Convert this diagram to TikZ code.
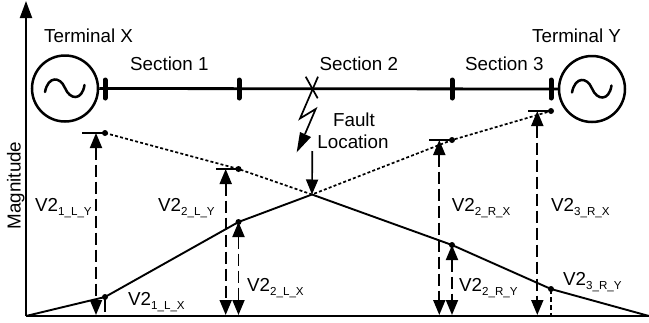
\documentclass[tikz,border=0pt]{standalone}
\usepackage{fontspec}
\setmainfont{Liberation Sans}
\usetikzlibrary{arrows.meta}
\tikzset{
  x=1pt,y=-1pt,
  lbl/.style={inner sep=0pt,font=\fontsize{18.8}{21}\selectfont},
  vlbl/.style={inner sep=0pt,anchor=base west,font=\fontsize{18.8}{21}\selectfont},
  head/.style={-{Triangle[length=15pt,width=12pt]}},
  heads/.style={{Triangle[length=15pt,width=12pt]}-{Triangle[length=15pt,width=12pt]}},
  bus/.style={line width=5pt,line cap=round},
  gen/.style={draw,circle,line width=2.5pt,minimum size=66pt,inner sep=0pt},
  meas/.style={line width=1.9pt,dash pattern=on 12pt off 5pt},
  curve/.style={line width=1.9pt},
  dots/.style={line width=1.7pt,dash pattern=on 3pt off 2.2pt},
  dotm/.style={circle,fill,inner sep=0pt,minimum size=6pt},
  tick/.style={line width=1.7pt},
  wave/.style={line width=2.5pt,line cap=round},
  bolt/.style={line width=1.7pt},
}
\newcommand{\vv}[2]{V2\raisebox{-4pt}{\fontsize{11.6}{13}\selectfont #1\_#2}}
\begin{document}
\begin{tikzpicture}
\useasboundingbox (0,0) rectangle (649,322);
% axes
\coordinate (o) at (26,316);
\coordinate (top) at (26,1);
\coordinate (xe) at (649,316);
\draw[line width=2pt,-{Triangle[length=17pt,width=12pt]}] (o) -- (top);
\draw[line width=2pt] (o) -- (xe);
\node[lbl,rotate=90,anchor=base] (mag) at (20.5,185.5) {Magnitude};
% sources
\node[gen] (gx) at (65,88.5) {};
\node[gen] (gy) at (592,89) {};
\draw[wave] (45,92) .. controls (48,76) and (60,76) .. (65,88) .. controls (70,100) and (82,101) .. (84.5,85);
\draw[wave] (572,92.5) .. controls (575,76.5) and (587,76.5) .. (592,88.5) .. controls (597,100.5) and (609,101.5) .. (611.5,85.5);
% line
\coordinate (b1) at (105,89);
\coordinate (b2) at (239,89);
\coordinate (b3) at (452,89);
\coordinate (b4) at (551,89);
\draw[line width=2.8pt] (gx.east) -- (gy.west);
\foreach \b in {b1,b2,b3,b4} \draw[bus] ([yshift=9pt]\b) -- ([yshift=-9pt]\b);
\node[lbl,anchor=base west] (tx) at (44,42) {Terminal X};
\node[lbl,anchor=base west] (ty) at (532,42) {Terminal Y};
\node[lbl,anchor=base west] (s1) at (130,70.7) {Section 1};
\node[lbl,anchor=base west] (s2) at (319.5,70.7) {Section 2};
\node[lbl,anchor=base west] (s3) at (465,70.7) {Section 3};
\node[lbl,anchor=base] (fl1) at (354,126.7) {Fault};
\node[lbl,anchor=base] (fl2) at (353,148) {Location};
% fault
\draw[bolt] (305.7,76.7) -- (317.7,98.3);
\draw[bolt] (318,76.7) -- (300,118.5) -- (315.7,109) -- (305,134);
\fill (296.7,152.3) -- (300,132) -- (311,137) -- cycle;
% points
\coordinate (p0) at (26,316);
\node[dotm] (a1) at (105,297) {};
\node[dotm] (a2) at (238.5,222) {};
\coordinate (c) at (312,194.5);
\node[dotm] (a3) at (452,245) {};
\node[dotm] (a4) at (551,289) {};
\coordinate (pe) at (649,316);
\node[dotm] (d1) at (105,133) {};
\node[dotm] (d2) at (238.5,169) {};
\node[dotm] (d3) at (452,140) {};
\node[dotm] (d4) at (551,111) {};
\draw[curve] (p0) -- (a1.center) -- (a2.center) -- (c) -- (a3.center) -- (a4.center) -- (pe);
\draw[dots] (d1.center) -- (d2.center) -- (c) -- (d3.center) -- (d4.center);
\draw[tick] (d1.center) -- ++(-23,0);
\draw[tick] (d2.center) -- ++(-23,0);
\draw[tick] (d3.center) -- ++(-23,0);
\draw[tick] (d4.center) -- ++(-23,0);
% measures
\coordinate (b96) at (96,315);
\coordinate (t96) at (96,133);
\coordinate (b226) at (225.7,315);
\coordinate (t226) at (225.7,169);
\coordinate (b439) at (439.3,315);
\coordinate (t439) at (439.3,140);
\coordinate (b537) at (537.3,315);
\coordinate (t537) at (537.3,111);
\coordinate (b238) at (238.5,315);
\coordinate (b452) at (452,315);
\coordinate (b105) at (105,312);
\coordinate (b551) at (551,315);
\draw[meas,heads] (t96) -- (b96);
\draw[meas,heads] (t226) -- (b226);
\draw[meas,heads] (t439) -- (b439);
\draw[meas,heads] (t537) -- (b537);
\draw[meas,heads] (a2.center) -- (b238);
\draw[meas,heads] (a3.center) -- (b452);
\draw[line width=1.9pt] (a1.center) -- (b105);
\draw[line width=1.9pt,dash pattern=on 5pt off 3pt] (a4.center) -- (b551);
\coordinate (fa) at (312.3,151);
\draw[line width=1.7pt,head] (fa) -- (c);
% labels
\node[vlbl] (l1) at (35,211.7) {\vv{1}{L\_Y}};
\node[vlbl] (l2) at (158,211.7) {\vv{2}{L\_Y}};
\node[vlbl] (l3) at (128,305.7) {\vv{1}{L\_X}};
\node[vlbl] (l4) at (247,291.7) {\vv{2}{L\_X}};
\node[vlbl] (l5) at (451.7,211.7) {\vv{2}{R\_X}};
\node[vlbl] (l6) at (551,211.7) {\vv{3}{R\_X}};
\node[vlbl] (l7) at (459,291.7) {\vv{2}{R\_Y}};
\node[vlbl] (l8) at (563,285) {\vv{3}{R\_Y}};
\end{tikzpicture}
\end{document}
